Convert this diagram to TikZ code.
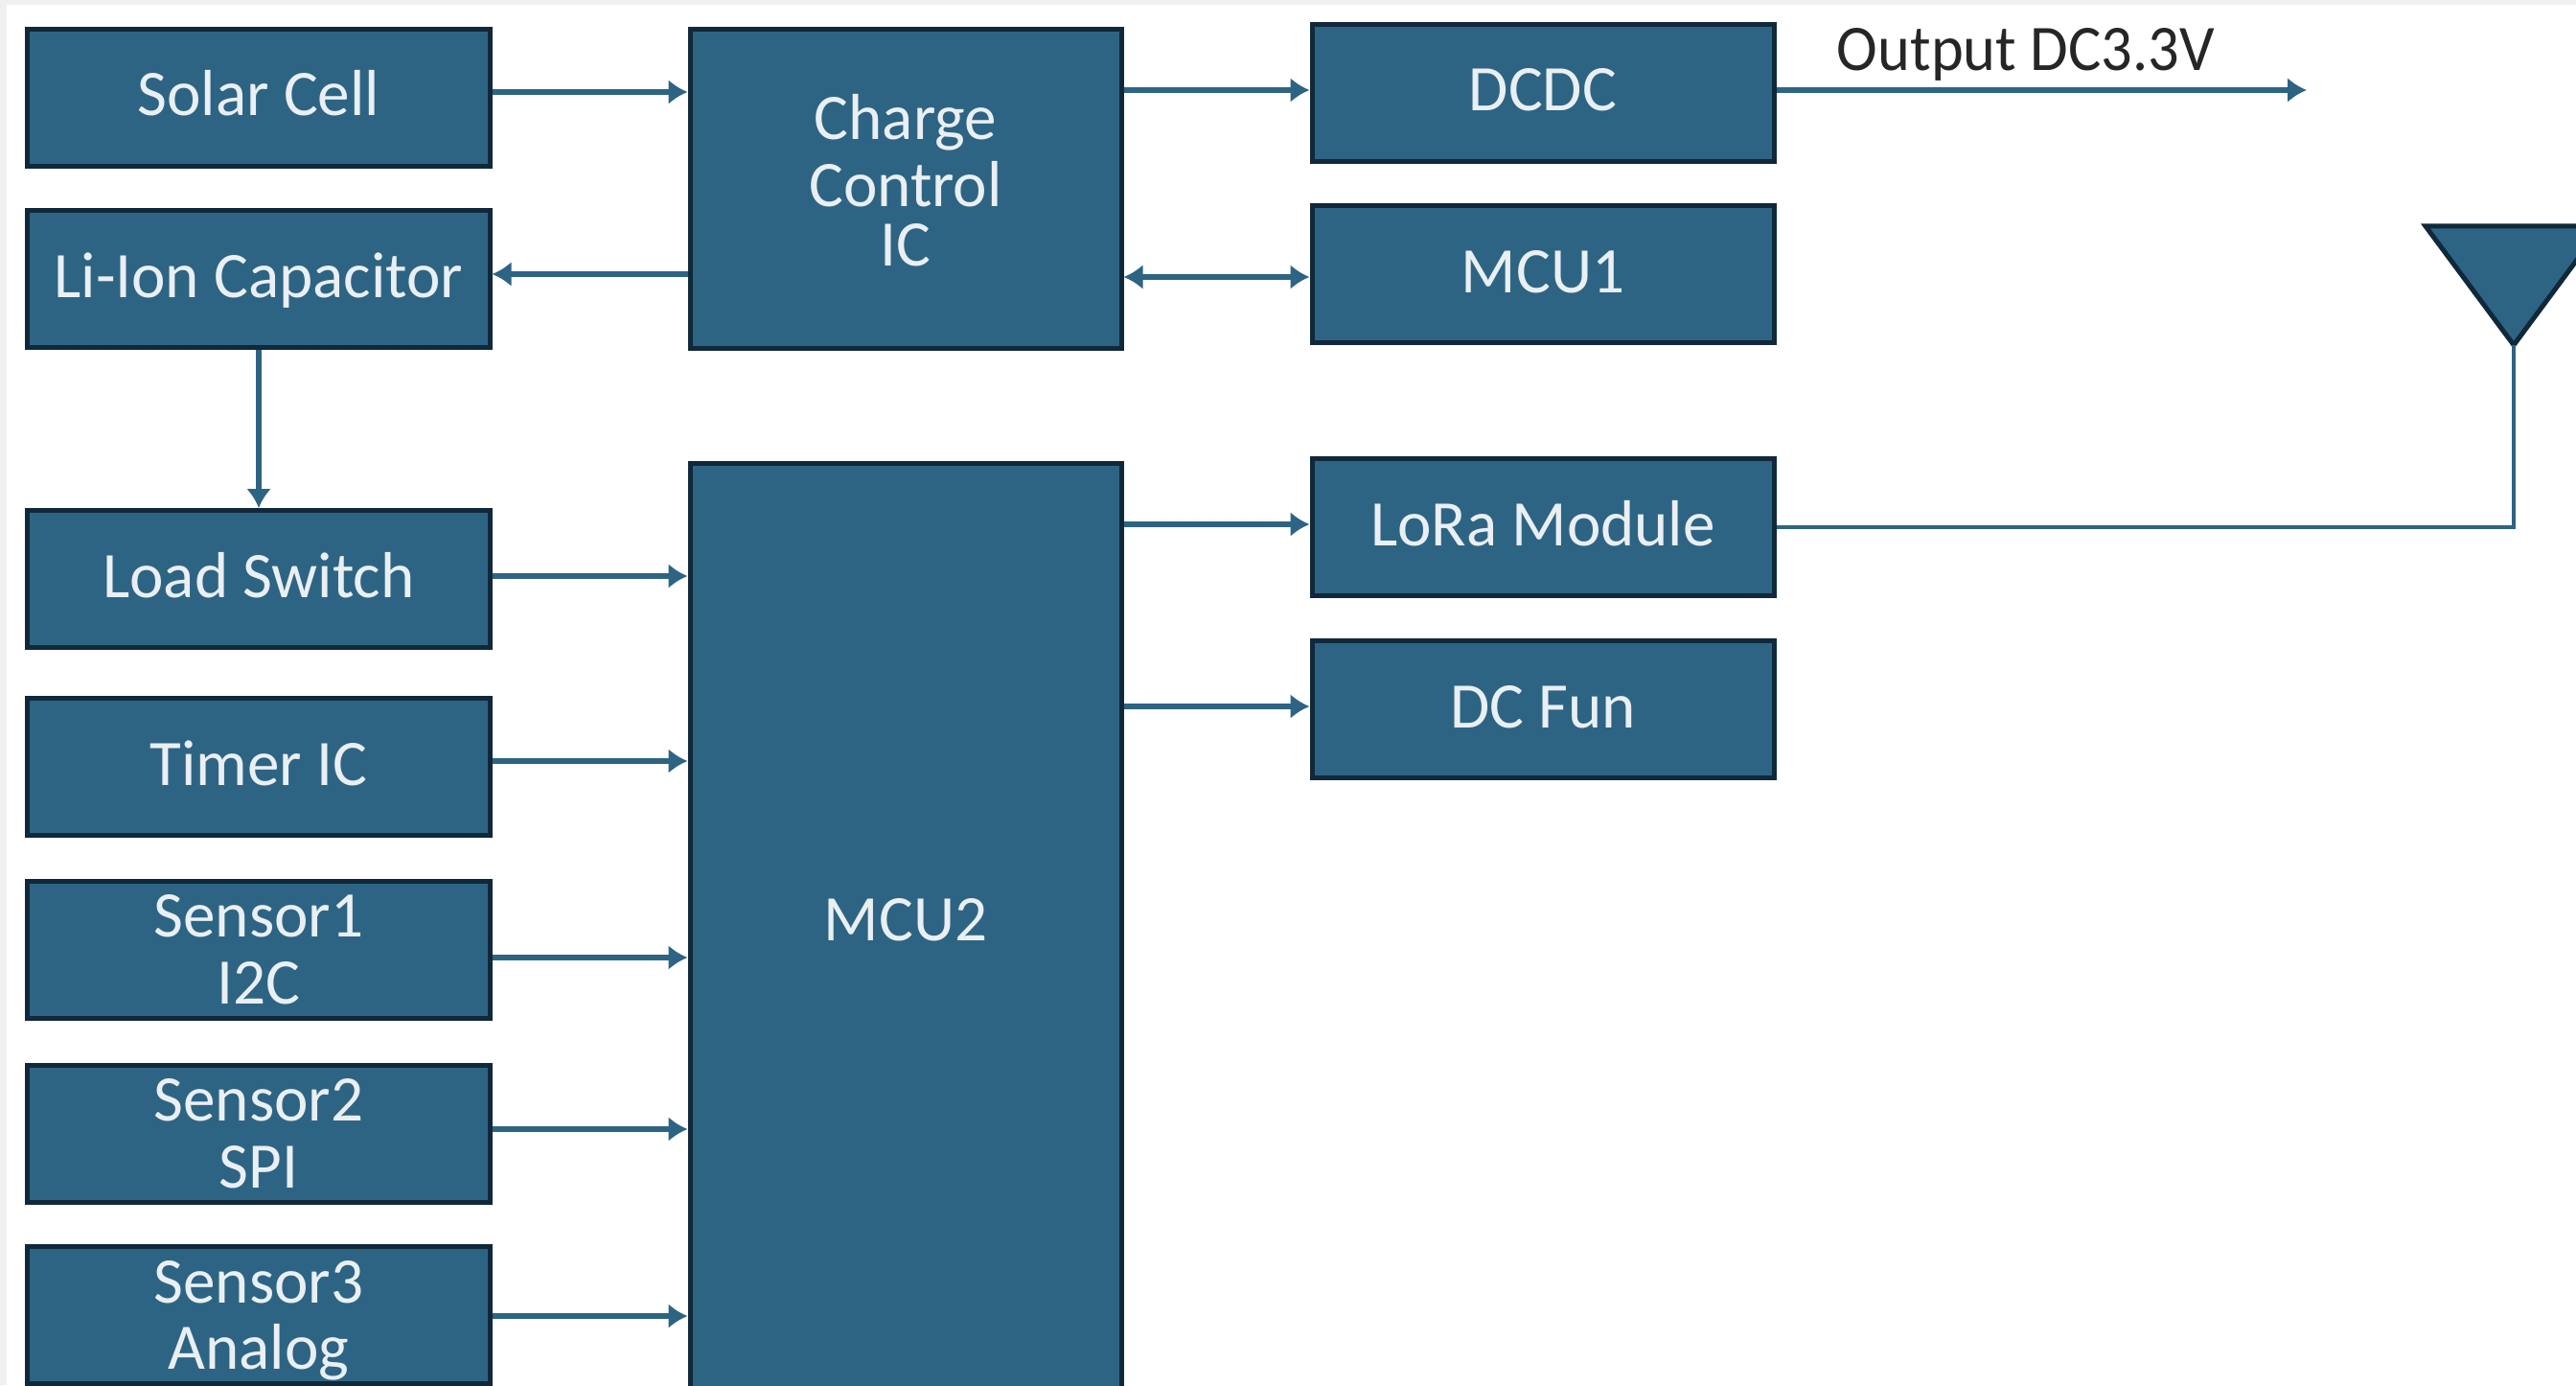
\documentclass[tikz,border=0pt]{standalone}
\usepackage{fontspec}
\setmainfont[FakeStretch=0.99]{Carlito}
\newfontfamily\outputfont[FakeStretch=0.95]{Carlito}
\usetikzlibrary{arrows.meta}
\definecolor{boxblue}{HTML}{2E6483}
\definecolor{boxedge}{HTML}{10283A}
\definecolor{boxtext}{HTML}{E9EFF3}
\definecolor{sheetgrey}{HTML}{F0F0F0}
\begin{document}
\begin{tikzpicture}[main node/.style={rectangle,draw=boxedge,fill=boxblue,line width=.05cm,text=boxtext,align=center,inner sep=0pt,minimum width=4.82cm,minimum height=1.43cm,font=\fontsize{19.3}{19.9}\selectfont},
one line/.style={text height=.50cm,text depth=.12cm},
link/.style={draw=boxblue,line width=.06cm,-{Latex[length=.2cm,width=.26cm]}}]
\clip (0,0) rectangle (26.88,14.45);
\fill [white] (0,0) rectangle (26.88,14.45);
\fill [sheetgrey] (0,14.40) rectangle (26.88,14.45);
\fill [sheetgrey] (0,0) rectangle (.07,14.45);
% left column
\node [main node,one line](solar) at (2.70,13.43) {Solar Cell};
\node [main node,one line](lic) at (2.70,11.54) {Li-Ion Capacitor};
\node [main node,one line](load) at (2.70,8.41) {Load Switch};
\node [main node,one line](timer) at (2.70,6.45) {Timer IC};
\node [main node](sensor1) at (2.70,4.54) {Sensor1\\I2C};
\node [main node](sensor2) at (2.70,2.62) {Sensor2\\SPI};
\node [main node](sensor3) at (2.70,.73) {Sensor3\\\smash{Analog}};
% middle column
\node [main node,text depth=.18cm,minimum width=4.50cm,minimum height=3.33cm](charge) at (9.45,12.48) {Charge\\Control\\[-.07cm]IC};
\node [main node,one line,text depth=.30cm,minimum width=4.50cm,minimum height=9.76cm](mcu2) at (9.45,4.74) {MCU2};
% right column
\node [main node,one line](dcdc) at (16.10,13.48) {DCDC};
\node [main node,one line](mcu1) at (16.10,11.59) {MCU1};
\node [main node,one line](lora) at (16.10,8.95) {LoRa Module};
\node [main node,one line](dcfun) at (16.10,7.05) {DC Fun};
\node [font=\fontsize{19.3}{19.9}\outputfont,text=black!85](output) at (21.14,13.88) {Output DC3.3V};
\coordinate (outend) at (24.07,13.51);
% antenna
\draw [draw=boxedge,fill=boxblue,line width=.05cm] (25.31,12.09) -- (27.15,12.09) -- (26.23,10.85) -- cycle;
\coordinate (apex) at (26.23,10.85);
\path [every edge/.style={link}]
	([yshift=.06cm]solar.east) edge ([yshift=.06cm]solar.east -| charge.west)
	([yshift=.05cm]lic.east -| charge.west) edge ([yshift=.05cm]lic.east)
	(lic.south) edge (load.north)
	([yshift=.03cm]load.east) edge ([yshift=.03cm]load.east -| mcu2.west)
	([yshift=.06cm]timer.east) edge ([yshift=.06cm]timer.east -| mcu2.west)
	([yshift=-.08cm]sensor1.east) edge ([yshift=-.08cm]sensor1.east -| mcu2.west)
	([yshift=.05cm]sensor2.east) edge ([yshift=.05cm]sensor2.east -| mcu2.west)
	([yshift=-.01cm]sensor3.east) edge ([yshift=-.01cm]sensor3.east -| mcu2.west)
	([yshift=.03cm]dcdc.west -| charge.east) edge ([yshift=.03cm]dcdc.west)
	([yshift=.03cm]dcdc.east) edge ([yshift=.03cm]dcdc.east -| outend)
	([yshift=.03cm]lora.west -| mcu2.east) edge ([yshift=.03cm]lora.west)
	([yshift=.03cm]dcfun.west -| mcu2.east) edge ([yshift=.03cm]dcfun.west)
	;
\draw [link,{Latex[length=.2cm,width=.26cm]}-{Latex[length=.2cm,width=.26cm]}] ([yshift=-.03cm]mcu1.west -| charge.east) -- ([yshift=-.03cm]mcu1.west);
\draw [draw=boxblue,line width=.045cm] (lora.east) -| (apex);
\end{tikzpicture}
\end{document}
